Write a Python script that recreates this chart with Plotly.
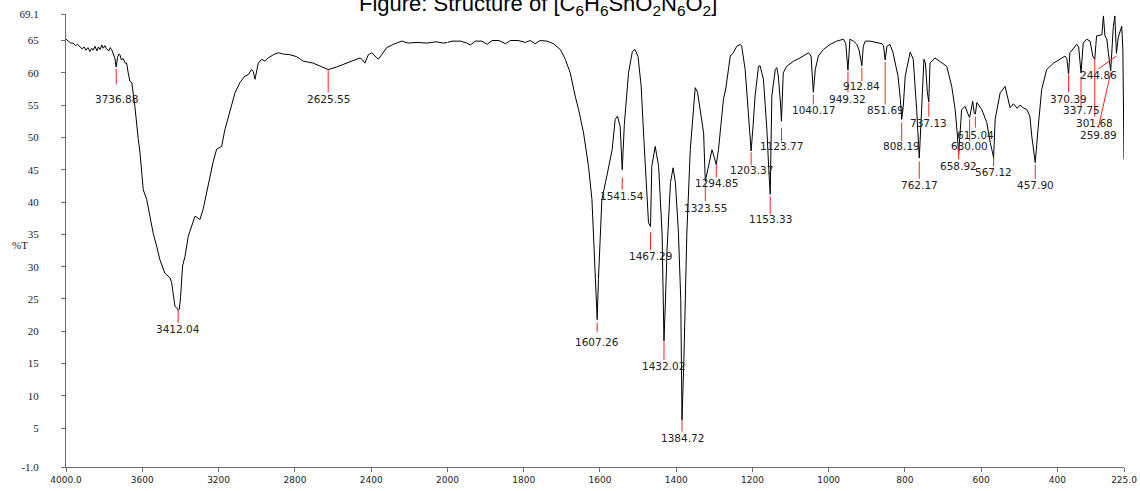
import plotly.graph_objects as go

# ---------------- data ----------------
# 4000-2000 cm-1 part (compressed scale)
wn_hi = [4000, 3990, 3975, 3962, 3950, 3940, 3927, 3915, 3905, 3895, 3885, 3875, 3865, 3857,
         3848, 3838, 3830, 3822, 3812, 3805, 3796, 3788, 3775, 3768, 3761, 3752, 3744, 3736.88,
         3730, 3722, 3717, 3710, 3700, 3690, 3682, 3674, 3665, 3655, 3645, 3639, 3621, 3612,
         3595, 3577, 3560, 3543, 3525, 3508, 3482, 3455, 3446, 3438, 3429, 3417, 3412.04, 3406,
         3399, 3389, 3376, 3359, 3341, 3324, 3312, 3298, 3281, 3263, 3245, 3228, 3210, 3195,
         3184, 3167, 3140, 3114, 3088, 3062, 3045, 3027, 3018, 3009, 2992, 2974, 2957, 2940,
         2913, 2887, 2861, 2826, 2791, 2756, 2704, 2660, 2625.55, 2581, 2529, 2476, 2459, 2445,
         2433, 2415, 2397, 2380, 2363, 2345, 2319, 2284, 2240, 2206, 2160, 2109, 2060, 2022, 2000]
t_hi = [65.2, 65.0, 64.6, 64.6, 64.2, 64.4, 64.1, 63.7, 64.0, 63.5, 63.9, 63.3, 63.8, 63.5,
        64.1, 63.4, 64.0, 63.6, 64.3, 63.8, 64.2, 63.7, 63.4, 63.9, 63.6, 62.7, 62.3, 60.9,
        62.4, 62.9, 62.8, 62.0, 62.2, 61.5, 61.5, 60.0, 58.7, 58.5, 56.5, 54.8, 49.7, 47.6,
        41.9, 40.4, 37.8, 35.2, 33.2, 31.1, 29.0, 28.3, 27.5, 25.4, 23.9, 23.5, 23.3, 23.4,
        25.4, 30.1, 31.6, 34.7, 36.3, 37.8, 37.6, 37.3, 38.9, 41.4, 44.0, 46.3, 48.2, 48.4,
        48.6, 51.2, 54.3, 56.9, 58.5, 59.5, 59.7, 60.5, 60.2, 59.0, 61.5, 62.1, 61.8, 62.3,
        62.8, 63.1, 62.9, 62.8, 62.5, 61.8, 61.5, 60.9, 60.5, 60.9, 61.5, 62.2, 62.3, 62.0,
        61.5, 62.8, 63.1, 62.6, 62.1, 62.8, 63.9, 64.4, 64.9, 64.6, 64.7, 64.6, 64.8, 64.6, 64.7]

# 2000-225 cm-1 part (expanded scale)
wn_lo = [2000, 1988, 1966, 1949, 1940, 1927, 1910, 1896, 1883, 1865, 1848, 1835, 1815, 1796,
         1783, 1770, 1757, 1739, 1722, 1704, 1691, 1678, 1665, 1656, 1643, 1630, 1621, 1617,
         1612, 1609, 1607.26, 1604, 1599, 1595, 1582, 1568, 1560, 1554, 1547, 1541.54, 1536,
         1525, 1515, 1508, 1500, 1492, 1485, 1478, 1472.6, 1467.29, 1464, 1455, 1446, 1437,
         1433, 1432.02, 1428, 1424, 1415, 1408, 1402, 1394, 1388, 1384.72, 1380, 1376, 1372,
         1363, 1355, 1350, 1344, 1336, 1328, 1323.55, 1315, 1306, 1298, 1294.85, 1289, 1280,
         1276, 1270, 1263, 1258, 1250, 1241, 1232, 1228, 1219, 1210, 1206, 1203.37, 1198, 1193,
         1184, 1180, 1171, 1162, 1157, 1153.33, 1149, 1140, 1136, 1132, 1126, 1123.77, 1119,
         1110, 1092, 1075, 1053, 1046, 1040.17, 1035, 1027, 1014, 996, 979, 961, 955, 949.32,
         944, 935, 926, 920, 912.84, 909, 904, 891, 874, 860, 856, 851.69, 847, 839, 831, 818,
         812, 808.19, 804, 799, 786, 778, 769, 762.17, 756, 750, 746, 741, 737.13, 734, 721,
         708, 690, 677, 668, 662, 658.92, 651, 642, 632, 630.00, 622, 618, 615.04, 611, 598,
         585, 576, 567.12, 563, 550, 537, 530, 524, 515, 505, 498, 490, 480, 472, 467, 461,
         457.90, 450, 441, 428, 410, 393, 380, 375, 370.39, 367, 354, 349, 344, 337.75, 332,
         323, 314, 307, 301.68, 297, 283, 279, 275, 270, 266, 259.89, 253, 249, 246, 244.86,
         240, 235, 231, 228, 227, 225]
t_lo = [64.7, 64.9, 64.9, 64.6, 64.3, 64.9, 64.9, 64.4, 65.0, 65.0, 64.5, 65.0, 65.0, 64.7,
        65.0, 64.5, 65.0, 64.9, 64.5, 63.6, 62.1, 60.0, 56.4, 54.3, 50.7, 45.5, 40.4, 35.3,
        30.1, 24.9, 21.8, 28.0, 35.3, 40.4, 44.0, 48.1, 52.8, 53.3, 51.7, 45.0, 52.0,
        60.0, 63.3, 63.6, 62.5, 58.0, 50.0, 42.0, 36.8, 36.2, 45.5, 48.6, 45.5, 35.2,
        24.9, 18.5, 25.0, 32.6, 43.0, 45.3, 43.0, 35.2, 24.9, 6.3, 15.0, 24.9, 35.2,
        48.1, 54.3, 57.7, 57.0, 54.0, 50.7, 43.2, 45.5, 48.1, 46.5, 45.8, 48.1, 53.3,
        55.9, 57.5, 60.5, 62.6, 63.1, 64.1, 64.4, 64.1, 60.5, 53.0, 49.7, 47.9, 52.0, 56.4,
        61.0, 61.1, 59.0, 51.2, 45.0, 41.2, 56.4, 60.5, 60.8, 59.5, 55.0, 52.5, 60.0,
        61.0, 61.8, 62.3, 63.1, 62.6, 57.0, 60.5, 62.6, 63.6, 64.4, 64.9, 65.2, 64.5, 60.4,
        65.2, 64.9, 64.4, 63.5, 61.1, 64.1, 64.9, 64.9, 64.7, 64.5, 64.2, 62.0, 64.1, 64.4, 63.1, 59.5,
        56.0, 52.8, 55.0, 59.5, 63.2, 62.1, 54.3, 46.8, 54.3, 62.1, 61.5, 57.0, 55.5, 61.5, 62.3,
        61.8, 61.0, 57.9, 54.3, 50.2, 47.3, 54.3, 54.8, 53.3, 53.1, 55.6, 53.8, 53.6, 55.4, 54.3,
        52.3, 49.2, 46.9, 52.8, 56.9, 57.9, 56.0, 54.6, 55.2, 54.5, 55.0, 54.6, 54.3, 53.3, 50.2, 47.0,
        46.1, 51.7, 57.4, 60.5, 61.5, 62.1, 62.6, 62.2, 59.8, 63.1, 64.1, 64.4, 64.0, 60.0, 64.6,
        65.2, 64.9, 62.6, 62.1, 65.7, 65.9, 68.8, 65.7, 65.2, 63.1, 60.3, 67.2, 68.8, 64.5, 63.0,
        65.5, 66.7, 67.2, 63.6, 54.3, 46.6]

# peak picks
peak_text = ["3736.88", "3412.04", "2625.55", "1607.26", "1541.54", "1467.29", "1432.02",
             "1384.72", "1323.55", "1294.85", "1203.37", "1153.33", "1123.77", "1040.17",
             "949.32", "912.84", "851.69", "808.19", "762.17", "737.13", "658.92", "630.00",
             "615.04", "567.12", "457.90", "370.39", "337.75", "301.68", "259.89", "244.86"]
peak_wn = [3736.88, 3412.04, 2625.55, 1607.26, 1541.54, 1467.29, 1432.02, 1384.72, 1323.55,
           1294.85, 1203.37, 1153.33, 1123.77, 1040.17, 949.32, 912.84, 851.69, 808.19, 762.17,
           737.13, 658.92, 630.00, 615.04, 567.12, 457.90, 370.39, 337.75, 301.68, 259.89, 244.86]
peak_t = [60.6, 23.4, 60.5, 21.3, 43.8, 35.3, 18.4, 6.3, 43.0, 45.8, 47.7, 40.9, 51.5, 56.6,
          60.2, 60.8, 61.7, 52.3, 46.3, 55.4, 48.4, 52.8, 53.2, 47.0, 45.8, 59.7, 59.4, 62.1,
          60.0, 62.6]

# label placement (text centre and end of the red marker line)
label_wn = [3736.88, 3412.04, 2625.55, 1607.26, 1541.54, 1467.29, 1432.02, 1384.72, 1323.55,
            1294.85, 1203.37, 1153.33, 1123.77, 1040.17, 949.32, 912.84, 851.69, 808.19, 762.17,
            737.13, 658.92, 630.00, 615.04, 567.12, 457.90, 370.39, 337.75, 301.68, 292.4, 292.4]
line_end_t = [58.2, 21.3, 57.0, 19.8, 41.9, 32.6, 15.6, 4.5, 40.1, 43.8, 45.7, 38.1, 49.4, 55.1,
              57.0, 58.7, 55.1, 49.4, 43.6, 53.2, 46.6, 49.4, 51.5, 45.5, 43.6, 57.0, 54.8, 53.2,
              51.5, 60.6]
label_t = [56.0, 20.4, 56.0, 18.4, 41.0, 31.7, 14.7, 3.5, 39.1, 43.0, 44.9, 37.4, 48.6, 54.3,
           55.9, 57.9, 54.3, 48.6, 42.7, 52.3, 45.6, 48.6, 50.4, 44.6, 42.7, 56.0, 54.3, 52.3,
           50.3, 59.7]

x_ticks_hi = [4000, 3600, 3200, 2800, 2400]
x_ticktext_hi = ["4000.0", "3600", "3200", "2800", "2400"]
x_ticks_lo = [2000, 1800, 1600, 1400, 1200, 1000, 800, 600, 400, 225]
x_ticktext_lo = ["2000", "1800", "1600", "1400", "1200", "1000", "800", "600", "400", "225.0"]
y_ticks = [-1, 5, 10, 15, 20, 25, 30, 35, 40, 45, 50, 55, 60, 65, 69.1]
y_ticktext = ["-1.0", "5", "10", "15", "20", "25", "30", "35", "40", "45", "50", "55", "60", "65", "69.1"]

# ---------------- figure ----------------
W, H = 1140, 491
ML, MR, MT, MB = 66, 16, 14, 24
plot_w = W - ML - MR
plot_h = H - MT - MB
split = (447.5 - ML) / plot_w

axis_col = "#6e6e6e"
txt_col = "#222222"

fig = go.Figure()
fig.add_trace(go.Scatter(x=wn_hi, y=t_hi, mode="lines", xaxis="x", yaxis="y",
                         line=dict(color="black", width=1), showlegend=False, hoverinfo="skip"))
fig.add_trace(go.Scatter(x=wn_lo, y=t_lo, mode="lines", xaxis="x2", yaxis="y",
                         line=dict(color="black", width=1), showlegend=False, hoverinfo="skip"))

shapes = []
annotations = []
for txt, wn, t, lwn, le, lt in zip(peak_text, peak_wn, peak_t, label_wn, line_end_t, label_t):
    xr = "x" if wn > 2000 else "x2"
    shapes.append(dict(type="line", xref=xr, yref="y", x0=wn, y0=t, x1=lwn, y1=le,
                       line=dict(color="#ff2020", width=1)))
    annotations.append(dict(x=lwn, y=lt, xref=xr, yref="y", text=txt, showarrow=False,
                            xanchor="center", yanchor="middle",
                            font=dict(family="DejaVu Sans", size=10.5, color=txt_col)))

# y-axis title "%T" (pixel position converted to paper coordinates)
annotations.append(dict(x=(20 - ML) / plot_w, y=(H - MB - 245) / plot_h,
                        xref="paper", yref="paper", text="%T", showarrow=False,
                        xanchor="center", yanchor="middle",
                        font=dict(family="Liberation Serif", size=11, color=txt_col)))

# title (partly cut off at the top edge, as in the reference)
annotations.append(dict(
    x=(538 - ML) / plot_w, y=(H - MB - 5) / plot_h, xref="paper", yref="paper",
    text="Figure: Structure of [C<sub>6</sub>H<sub>6</sub>SnO<sub>2</sub>N<sub>6</sub>O<sub>2</sub>]",
    showarrow=False, xanchor="center", yanchor="middle",
    font=dict(family="Liberation Sans", size=22, color="black")))

xcommon = dict(showgrid=False, zeroline=False, showline=True, linecolor=axis_col, linewidth=1,
               ticks="outside", ticklen=4, tickcolor=axis_col, tickwidth=1,
               tickfont=dict(family="DejaVu Sans", size=9, color=txt_col), tickmode="array",
               automargin=False, anchor="y")

fig.update_layout(
    width=W, height=H,
    margin=dict(l=ML, r=MR, t=MT, b=MB, pad=0),
    paper_bgcolor="white", plot_bgcolor="white",
    xaxis=dict(domain=[0, split], range=[4000, 2000], tickvals=x_ticks_hi,
               ticktext=x_ticktext_hi, **xcommon),
    xaxis2=dict(domain=[split, 1], range=[2000, 225], tickvals=x_ticks_lo,
                ticktext=x_ticktext_lo, **xcommon),
    yaxis=dict(range=[-1, 69.1], tickmode="array", tickvals=y_ticks, ticktext=y_ticktext,
               showgrid=False, zeroline=False, showline=True, linecolor=axis_col, linewidth=1,
               ticks="outside", ticklen=4, tickcolor=axis_col, ticklabelstandoff=20,
               tickfont=dict(family="Liberation Serif", size=11, color=txt_col),
               automargin=False, anchor="x"),
    shapes=shapes, annotations=annotations,
)

fig.write_html("out.html")
